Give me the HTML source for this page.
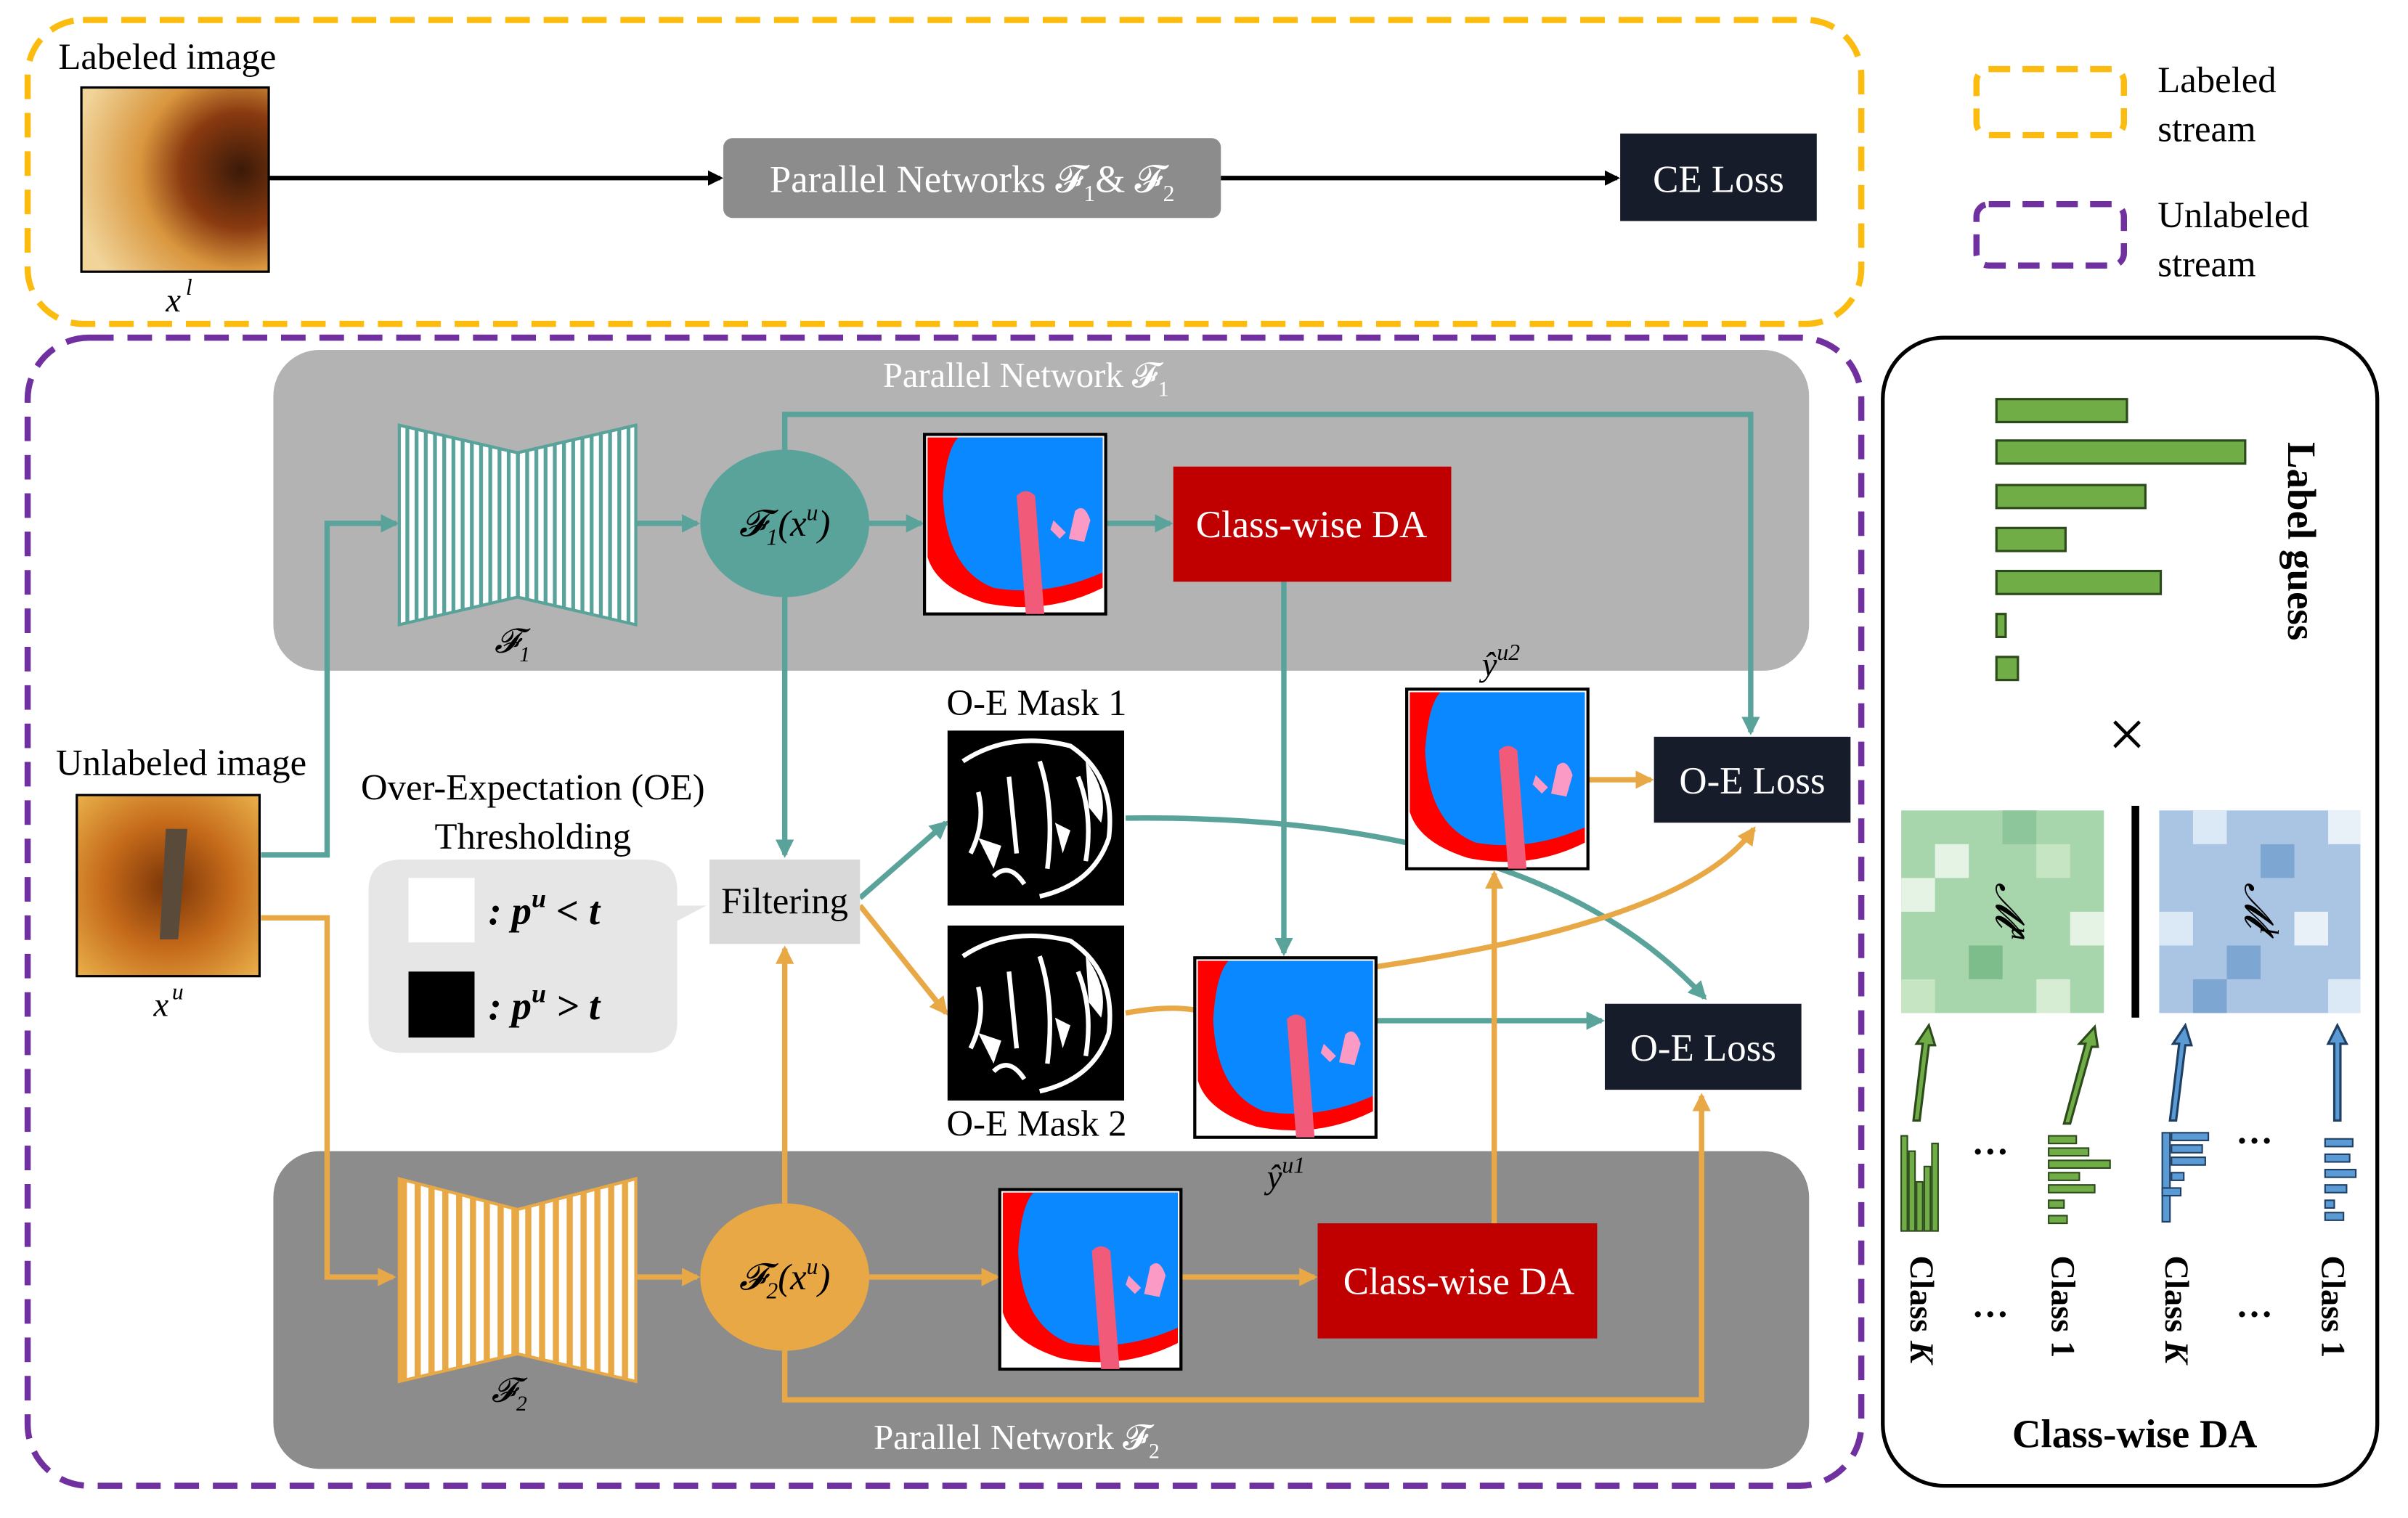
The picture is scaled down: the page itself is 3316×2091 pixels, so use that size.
<!DOCTYPE html>
<html><head><meta charset="utf-8"><style>
html,body{margin:0;padding:0;background:#fff;}
svg{display:block;}
text{font-family:"Liberation Serif",serif;}
</style></head><body>
<svg width="3316" height="2091" viewBox="0 0 1568 989" preserveAspectRatio="none" xmlns="http://www.w3.org/2000/svg">
<defs>
<marker id="ak" markerWidth="10" markerHeight="10" refX="8" refY="5" orient="auto" markerUnits="userSpaceOnUse"><path d="M0,0 L10,5 L0,10 z" fill="#000"/></marker>
<marker id="at" markerWidth="12" markerHeight="12" refX="10" refY="6" orient="auto" markerUnits="userSpaceOnUse"><path d="M0,0 L12,6 L0,12 z" fill="#5aa39b"/></marker>
<marker id="ao" markerWidth="12" markerHeight="12" refX="10" refY="6" orient="auto" markerUnits="userSpaceOnUse"><path d="M0,0 L12,6 L0,12 z" fill="#e8a845"/></marker>
<pattern id="st" width="6" height="10" patternUnits="userSpaceOnUse"><rect width="6" height="10" fill="#fff"/><rect x="0" width="2.5" height="10" fill="#5aa39b"/></pattern>
<pattern id="so" width="9" height="10" patternUnits="userSpaceOnUse"><rect width="9" height="10" fill="#fff"/><rect x="0" width="4" height="10" fill="#e8a845"/></pattern>
<radialGradient id="eye1" cx="0.85" cy="0.45" r="0.9"><stop offset="0" stop-color="#3a1a08"/><stop offset="0.35" stop-color="#8a3a10"/><stop offset="0.6" stop-color="#d9963e"/><stop offset="1" stop-color="#f0d49a"/></radialGradient>
<radialGradient id="eye2" cx="0.5" cy="0.5" r="0.7"><stop offset="0" stop-color="#7a3508"/><stop offset="0.5" stop-color="#c56a1a"/><stop offset="1" stop-color="#e9b04a"/></radialGradient>
<g id="seg">
<rect x="0" y="0" width="118" height="117" fill="#fff" stroke="#000" stroke-width="2"/>
<path d="M2,2 H116 V100 Q80,118 40,110 Q8,100 2,80 Z" fill="#ff0000"/>
<path d="M22,2 H116 V90 Q80,106 45,100 Q14,88 12,40 Q14,10 22,2 Z" fill="#0a88ff"/>
<path d="M60,40 Q66,34 72,40 L78,117 L66,117 Z" fill="#f25a7a"/>
<path d="M98,50 Q104,44 108,56 L104,70 L94,68 Z" fill="#fb9ac4"/>
<path d="M84,56 L92,64 L88,68 L82,62 Z" fill="#fb9ac4"/>
</g>
<g id="mask">
<rect x="0" y="0" width="115" height="114" fill="#000"/>
<path d="M10,20 Q40,0 80,10 Q110,30 105,70 Q95,100 60,108 M20,40 Q25,60 15,80 M40,30 L45,80 M60,20 Q70,50 65,90 M85,30 Q95,55 90,85 M30,95 Q40,85 50,100" stroke="#fff" stroke-width="3" fill="none"/>
<path d="M90,20 Q105,40 100,60 L92,50 Z M20,70 L35,75 L30,90 Z M70,60 L80,65 L75,80 Z" fill="#fff"/>
</g>
</defs>

<rect x="18" y="13" width="1194" height="198" rx="36" fill="none" stroke="#fbbb0f" stroke-width="4" stroke-dasharray="16,9"/>
<text x="38" y="45" font-size="24">Labeled image</text>
<rect x="53" y="57" width="122" height="120" fill="url(#eye1)" stroke="#000" stroke-width="1.5"/>
<text x="108" y="203" font-size="22" font-style="italic">x</text><text x="121" y="192" font-size="15" font-style="italic">l</text>
<line x1="175" y1="116" x2="469" y2="116" stroke="#000" stroke-width="3" marker-end="url(#ak)"/>
<rect x="471" y="90" width="324" height="52" rx="6" fill="#8c8c8c"/>
<text x="633" y="125" font-size="25" fill="#fff" text-anchor="middle">Parallel Networks 𝓕<tspan font-size="15" dy="6">1</tspan><tspan dy="-6">&amp; 𝓕</tspan><tspan font-size="15" dy="6">2</tspan></text>
<line x1="795" y1="116" x2="1053" y2="116" stroke="#000" stroke-width="3" marker-end="url(#ak)"/>
<rect x="1055" y="87" width="128" height="57" fill="#161c2a"/>
<text x="1119" y="125" font-size="25" fill="#fff" text-anchor="middle">CE Loss</text>

<rect x="1287" y="45" width="96" height="43" rx="8" fill="none" stroke="#fbbb0f" stroke-width="4" stroke-dasharray="14,8"/>
<text x="1405" y="60" font-size="24">Labeled</text><text x="1405" y="92" font-size="24">stream</text>
<rect x="1287" y="133" width="96" height="40" rx="8" fill="none" stroke="#7030a0" stroke-width="4" stroke-dasharray="14,8"/>
<text x="1405" y="148" font-size="24">Unlabeled</text><text x="1405" y="180" font-size="24">stream</text>

<rect x="18" y="220" width="1194" height="748" rx="40" fill="none" stroke="#7030a0" stroke-width="4" stroke-dasharray="16,9"/>
<rect x="178" y="228" width="1000" height="209" rx="30" fill="#b3b3b3"/>
<text x="668" y="252" font-size="23" fill="#fff" text-anchor="middle">Parallel Network 𝓕<tspan font-size="14" dy="6">1</tspan></text>
<rect x="178" y="750" width="1000" height="207" rx="30" fill="#8c8c8c"/>
<text x="662" y="944" font-size="23" fill="#fff" text-anchor="middle">Parallel Network 𝓕<tspan font-size="14" dy="6">2</tspan></text>

<polygon points="260,277 337,295 337,389 260,407" fill="url(#st)" stroke="#5aa39b" stroke-width="2"/>
<polygon points="337,295 414,277 414,407 337,389" fill="url(#st)" stroke="#5aa39b" stroke-width="2"/>
<text x="322" y="425" font-size="22" font-style="italic">𝓕<tspan font-size="14" dy="6">1</tspan></text>
<polygon points="260,768 337,788 337,882 260,900" fill="url(#so)" stroke="#e8a845" stroke-width="2"/>
<polygon points="337,788 414,768 414,900 337,882" fill="url(#so)" stroke="#e8a845" stroke-width="2"/>
<text x="320" y="913" font-size="22" font-style="italic">𝓕<tspan font-size="14" dy="6">2</tspan></text>

<g stroke="#5aa39b" stroke-width="3.5" fill="none">
<polyline points="170,557 213,557 213,341 258,341" marker-end="url(#at)"/>
<line x1="414" y1="341" x2="454" y2="341" marker-end="url(#at)"/>
<line x1="566" y1="341" x2="600" y2="341" marker-end="url(#at)"/>
<line x1="720" y1="341" x2="762" y2="341" marker-end="url(#at)"/>
<polyline points="511,293 511,270 1140,270 1140,477" marker-end="url(#at)"/>
<line x1="511" y1="389" x2="511" y2="557" marker-end="url(#at)"/>
<line x1="836" y1="379" x2="836" y2="621" marker-end="url(#at)"/>
<line x1="560" y1="585" x2="616" y2="536" marker-end="url(#at)"/>
<path d="M733,533 Q1000,530 1110,650" marker-end="url(#at)"/>
<line x1="895" y1="665" x2="1043" y2="665" marker-end="url(#at)"/>
</g>
<g stroke="#e8a845" stroke-width="3.5" fill="none">
<polyline points="170,598 213,598 213,832 256,832" marker-end="url(#ao)"/>
<line x1="414" y1="832" x2="454" y2="832" marker-end="url(#ao)"/>
<line x1="566" y1="832" x2="649" y2="832" marker-end="url(#ao)"/>
<line x1="769" y1="832" x2="856" y2="832" marker-end="url(#ao)"/>
<line x1="973" y1="797" x2="973" y2="569" marker-end="url(#ao)"/>
<line x1="1034" y1="508" x2="1075" y2="508" marker-end="url(#ao)"/>
<polyline points="511,880 511,912 1108,912 1108,714" marker-end="url(#ao)"/>
<line x1="511" y1="784" x2="511" y2="618" marker-end="url(#ao)"/>
<line x1="560" y1="590" x2="616" y2="660" marker-end="url(#ao)"/>
<path d="M733,660 Q760,655 778,658"/>
<path d="M895,630 Q1100,600 1142,540" marker-end="url(#ao)"/>
</g>

<ellipse cx="511" cy="341" rx="55" ry="48" fill="#5aa39b"/>
<text x="511" y="349" font-size="24" text-anchor="middle" font-style="italic">𝓕<tspan font-size="15" dy="6">1</tspan><tspan dy="-6">(x</tspan><tspan font-size="15" dy="-10">u</tspan><tspan dy="10">)</tspan></text>
<ellipse cx="511" cy="832" rx="55" ry="48" fill="#e8a845"/>
<text x="511" y="840" font-size="24" text-anchor="middle" font-style="italic">𝓕<tspan font-size="15" dy="6">2</tspan><tspan dy="-6">(x</tspan><tspan font-size="15" dy="-10">u</tspan><tspan dy="10">)</tspan></text>

<use href="#seg" x="602" y="283"/>
<use href="#seg" x="651" y="775"/>
<use href="#seg" x="916" y="449"/>
<use href="#seg" x="778" y="624"/>
<text x="965" y="440" font-size="22" font-style="italic">ŷ<tspan font-size="15" dy="-10">u2</tspan></text>
<text x="825" y="774" font-size="22" font-style="italic">ŷ<tspan font-size="15" dy="-10">u1</tspan></text>

<rect x="764" y="304" width="181" height="75" fill="#c00000"/>
<text x="854" y="350" font-size="25" fill="#fff" text-anchor="middle">Class-wise DA</text>
<rect x="858" y="797" width="182" height="75" fill="#c00000"/>
<text x="950" y="843" font-size="25" fill="#fff" text-anchor="middle">Class-wise DA</text>

<rect x="1077" y="480" width="128" height="56" fill="#161c2a"/>
<text x="1141" y="517" font-size="25" fill="#fff" text-anchor="middle">O-E Loss</text>
<rect x="1045" y="654" width="128" height="56" fill="#161c2a"/>
<text x="1109" y="691" font-size="25" fill="#fff" text-anchor="middle">O-E Loss</text>

<text x="675" y="466" font-size="24" text-anchor="middle">O-E Mask 1</text>
<use href="#mask" x="617" y="476"/>
<use href="#mask" x="617" y="603"/>
<text x="675" y="740" font-size="24" text-anchor="middle">O-E Mask 2</text>

<rect x="462" y="560" width="98" height="55" fill="#d9d9d9"/>
<text x="511" y="595" font-size="24" text-anchor="middle">Filtering</text>

<text x="347" y="521" font-size="24" text-anchor="middle">Over-Expectation (OE)</text>
<text x="347" y="553" font-size="24" text-anchor="middle">Thresholding</text>
<path d="M262,560 H420 Q441,560 441,580 V590 L460,590 L441,600 V666 Q441,686 420,686 H262 Q240,686 240,666 V580 Q240,560 262,560 Z" fill="#e6e6e6"/>
<rect x="266" y="572" width="43" height="42" fill="#fff"/>
<rect x="266" y="633" width="43" height="43" fill="#000"/>
<text x="318" y="602" font-size="26" font-weight="bold" font-style="italic">: p<tspan font-size="17" dy="-11">u</tspan><tspan dy="11"> &lt; t</tspan></text>
<text x="318" y="664" font-size="26" font-weight="bold" font-style="italic">: p<tspan font-size="17" dy="-11">u</tspan><tspan dy="11"> &gt; t</tspan></text>

<text x="118" y="505" font-size="24" text-anchor="middle">Unlabeled image</text>
<rect x="50" y="518" width="119" height="118" fill="url(#eye2)" stroke="#000" stroke-width="1.5"/>
<path d="M108,540 L122,540 L116,612 L104,612 Z" fill="#5a4a3a"/>
<text x="100" y="662" font-size="22" font-style="italic">x</text><text x="112" y="651" font-size="15" font-style="italic">u</text>

<rect x="1226" y="220" width="322" height="748" rx="40" fill="#fff" stroke="#000" stroke-width="2.5"/>
<g fill="#70ad47" stroke="#2d4a1c" stroke-width="1.5">
<rect x="1300" y="260" width="85" height="15"/>
<rect x="1300" y="287" width="162" height="15"/>
<rect x="1300" y="316" width="97" height="15"/>
<rect x="1300" y="344" width="45" height="15"/>
<rect x="1300" y="372" width="107" height="15"/>
<rect x="1300" y="400" width="6" height="15"/>
<rect x="1300" y="428" width="14" height="15"/>
</g>
<text x="1490" y="288" font-size="26" font-weight="bold" transform="rotate(90 1490 288)">Label guess</text>
<text x="1385" y="493" font-size="44" text-anchor="middle">×</text>
<g>
<rect x="1238" y="528" width="132" height="132" fill="#a7d5ac"/>
<rect x="1260" y="550" width="22" height="22" fill="#e5f3e4"/><rect x="1238" y="572" width="22" height="22" fill="#e5f3e4"/>
<rect x="1304" y="528" width="22" height="22" fill="#8cc69a"/><rect x="1348" y="594" width="22" height="22" fill="#e5f3e4"/>
<rect x="1282" y="616" width="22" height="22" fill="#7dbd8b"/><rect x="1326" y="638" width="22" height="22" fill="#d6ecd3"/>
<rect x="1238" y="638" width="22" height="22" fill="#c6e5c3"/><rect x="1326" y="550" width="22" height="22" fill="#c6e5c3"/>
</g>
<text x="1300" y="575" font-size="26" font-style="italic" transform="rotate(90 1300 575)">𝓜<tspan font-size="17" dy="-10">u</tspan></text>
<rect x="1388" y="525" width="5" height="138" fill="#000"/>
<g>
<rect x="1406" y="528" width="131" height="132" fill="#a9c5e3"/>
<rect x="1428" y="528" width="22" height="22" fill="#dbe8f5"/><rect x="1472" y="550" width="22" height="22" fill="#7ea6d2"/>
<rect x="1406" y="594" width="22" height="22" fill="#dbe8f5"/><rect x="1450" y="616" width="22" height="22" fill="#7ea6d2"/>
<rect x="1494" y="594" width="22" height="22" fill="#e8f0f8"/><rect x="1428" y="638" width="22" height="22" fill="#7ea6d2"/>
<rect x="1516" y="528" width="21" height="22" fill="#e8f0f8"/><rect x="1516" y="638" width="21" height="22" fill="#dbe8f5"/>
</g>
<text x="1462" y="575" font-size="26" font-style="italic" transform="rotate(90 1462 575)">𝓜<tspan font-size="17" dy="-10">l</tspan></text>
<g stroke="#2d4a1c" stroke-width="1.5" fill="#70ad47">
<path d="M1246,730 L1252,680 L1248,680 L1256,668 L1260,681 L1256,681 L1250,730 Z"/>
<path d="M1344,732 L1358,680 L1354,680 L1364,669 L1366,682 L1362,682 L1348,732 Z"/>
</g>
<g stroke="#1f3f63" stroke-width="1.5" fill="#5b9bd5">
<path d="M1413,730 L1419,680 L1415,680 L1423,668 L1427,681 L1423,681 L1417,730 Z"/>
<path d="M1520,730 L1520,680 L1516,680 L1522,668 L1528,680 L1524,680 L1524,730 Z"/>
</g>
<g fill="#70ad47" stroke="#2d4a1c" stroke-width="1">
<rect x="1238" y="740" width="4" height="62"/><rect x="1243" y="750" width="4" height="52"/><rect x="1248" y="770" width="4" height="32"/><rect x="1253" y="760" width="4" height="42"/><rect x="1258" y="745" width="4" height="57"/>
<rect x="1334" y="740" width="18" height="5"/><rect x="1334" y="748" width="26" height="5"/><rect x="1334" y="756" width="40" height="5"/><rect x="1334" y="764" width="20" height="5"/><rect x="1334" y="772" width="30" height="5"/><rect x="1334" y="782" width="10" height="5"/><rect x="1334" y="792" width="12" height="5"/>
</g>
<g fill="#5b9bd5" stroke="#1f3f63" stroke-width="1">
<rect x="1408" y="738" width="5" height="58"/><rect x="1414" y="738" width="24" height="5"/><rect x="1414" y="746" width="20" height="5"/><rect x="1414" y="754" width="22" height="5"/><rect x="1414" y="764" width="8" height="5"/><rect x="1408" y="774" width="12" height="5"/>
<rect x="1514" y="742" width="18" height="5"/><rect x="1514" y="752" width="16" height="5"/><rect x="1514" y="762" width="20" height="5"/><rect x="1514" y="772" width="14" height="5"/><rect x="1514" y="782" width="6" height="5"/><rect x="1514" y="790" width="12" height="5"/>
</g>
<text x="1296" y="752" font-size="24" font-weight="bold" text-anchor="middle">…</text>
<text x="1468" y="745" font-size="24" font-weight="bold" text-anchor="middle">…</text>
<text x="1296" y="858" font-size="24" font-weight="bold" text-anchor="middle">…</text>
<text x="1468" y="858" font-size="24" font-weight="bold" text-anchor="middle">…</text>
<g font-size="22" font-weight="bold">
<text x="1244" y="818" transform="rotate(90 1244 818)">Class <tspan font-style="italic">K</tspan></text>
<text x="1336" y="818" transform="rotate(90 1336 818)">Class 1</text>
<text x="1410" y="818" transform="rotate(90 1410 818)">Class <tspan font-style="italic">K</tspan></text>
<text x="1512" y="818" transform="rotate(90 1512 818)">Class 1</text>
</g>
<text x="1390" y="943" font-size="26" font-weight="bold" text-anchor="middle">Class-wise DA</text>
</svg>
</body></html>
